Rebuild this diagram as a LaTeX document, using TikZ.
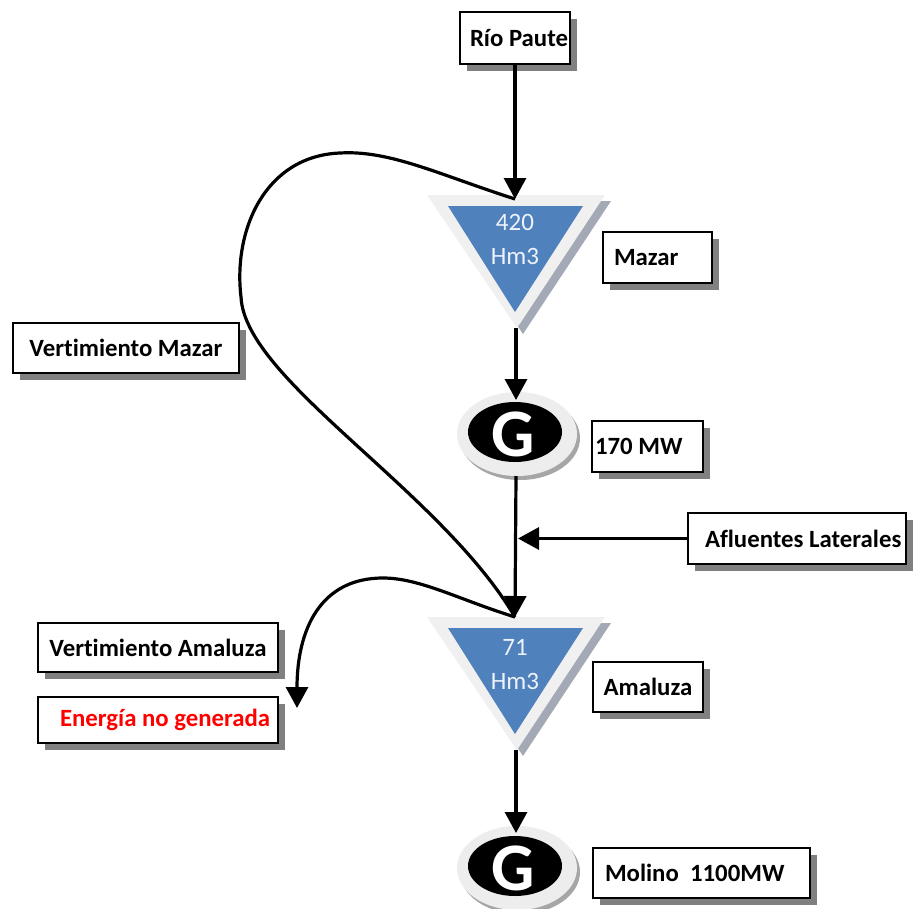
\documentclass[tikz,border=0pt]{standalone}
\usepackage{fontspec}
\setmainfont{Carlito}[Ligatures={NoCommon}]
\usetikzlibrary{shadows,arrows.meta}
\definecolor{tblue}{HTML}{4F81BD}
\definecolor{tlight}{HTML}{F0F0F0}
\definecolor{tshadow}{HTML}{A3AAB6}
\definecolor{numwhite}{HTML}{EEF2FA}
\definecolor{ered}{HTML}{FF0000}
\begin{document}
\begin{tikzpicture}[x=1pt,y=-1pt,
  box/.style={draw=black,line width=2.6pt,fill=white,inner ysep=0pt,
    font=\fontsize{24.8}{28}\selectfont\bfseries,
    drop shadow={shadow xshift=7pt,shadow yshift=-7pt,fill=black!50,opacity=1}},
  cbox/.style={box,inner xsep=0pt},
  numtxt/.style={text=numwhite,font=\fontsize{25}{28}\selectfont,inner sep=0pt},
  gtxt/.style={text=white,font=\fontsize{68}{72}\selectfont\bfseries,inner sep=0pt},
  arr/.style={line width=3.2pt,-{Triangle[length=21pt,width=22pt]}},
  curve/.style={line width=3.2pt}
]
\useasboundingbox (0,0) rectangle (913,908);

% ---------- reservoirs (triangles) ----------
\fill[tshadow] (433,201) -- (611,201) -- (523,334) -- cycle;
\fill[tlight] (427,195) -- (605,195) -- (517,328) -- cycle;
\fill[tblue] (448,206) -- (583,206) -- (515,312) -- cycle;
\node[numtxt] (mzn1) at (515,222) {420};
\node[numtxt] (mzn2) at (515,256) {Hm3};
\coordinate (mztop) at (515,199);
\coordinate (mzbot) at (516,328);

\fill[tshadow] (433,623) -- (611,623) -- (523,756) -- cycle;
\fill[tlight] (427,617) -- (605,617) -- (517,750) -- cycle;
\fill[tblue] (448,628) -- (583,628) -- (515,734) -- cycle;
\node[numtxt] (amn1) at (515,647) {71};
\node[numtxt] (amn2) at (515,681) {Hm3};
\coordinate (amtop) at (515,617);
\coordinate (ambot) at (516,750);

% ---------- generators ----------
\fill[black!35] (520,438) ellipse [x radius=60, y radius=42];
\fill[black!7] (517,434) ellipse [x radius=60, y radius=42];
\fill[black] (515,432) ellipse [x radius=47, y radius=30];
\node[gtxt] (g1) at (513,434) {G};
\coordinate (g1top) at (516,400);
\coordinate (g1bot) at (516,476);

\fill[black!35] (520,872) ellipse [x radius=60, y radius=42];
\fill[black!7] (517,868) ellipse [x radius=60, y radius=42];
\fill[black] (515,866) ellipse [x radius=47, y radius=30];
\node[gtxt] (g2) at (513,868) {G};
\coordinate (g2top) at (516,833);

% ---------- label boxes ----------
\node[box,minimum height=52pt,inner xsep=10pt] (rio) at (515,38) {\makebox[90pt][l]{Río Paute}};
\node[box,minimum height=51pt,inner xsep=11pt] (mazar) at (657.5,257.5) {\makebox[87pt][l]{Mazar}};
\node[cbox,minimum height=50pt,minimum width=226pt] (vmazar) at (126,348) {Vertimiento Mazar};
\node[box,minimum height=51pt,inner xsep=3pt] (mw) at (647.5,446.5) {\makebox[105pt][l]{170 MW}};
\node[box,minimum height=51pt,inner xsep=17pt] (aflu) at (797,538.5) {\makebox[184pt][l]{Afluentes Laterales}};
\node[cbox,minimum height=49pt,minimum width=240pt] (vamal) at (158,647.5) {Vertimiento Amaluza};
\node[box,minimum height=46pt,inner xsep=22pt,text=ered] (energia) at (158,720) {\makebox[196pt][l]{Energía no generada}};
\node[cbox,minimum height=50pt,minimum width=110pt] (amaluza) at (648,687) {Amaluza};
\node[box,minimum height=50pt,inner xsep=12pt] (molino) at (701.5,873) {\makebox[193pt][l]{Molino\ \ 1100MW}};

% ---------- connectors ----------
\coordinate (join) at (518,538.5);
\coordinate (spill) at (297,708);
\draw[arr] (rio.south) -- (mztop);
\draw[arr] (mzbot) -- (g1top);
\draw[arr] (g1bot) -- (amtop);
\draw[arr] (aflu.west) -- (join);
\draw[arr] (ambot) -- (g2top);
\draw[curve] (mztop) .. controls (440,175) and (390,150) .. (340,153)
  .. controls (265,156) and (233,230) .. (241,297)
  .. controls (245,380) and (440,490) .. (amtop);
\draw[arr] (amtop) .. controls (460,600) and (420,578) .. (383,578)
  .. controls (320,578) and (297,630) .. (spill);
\end{tikzpicture}
\end{document}
